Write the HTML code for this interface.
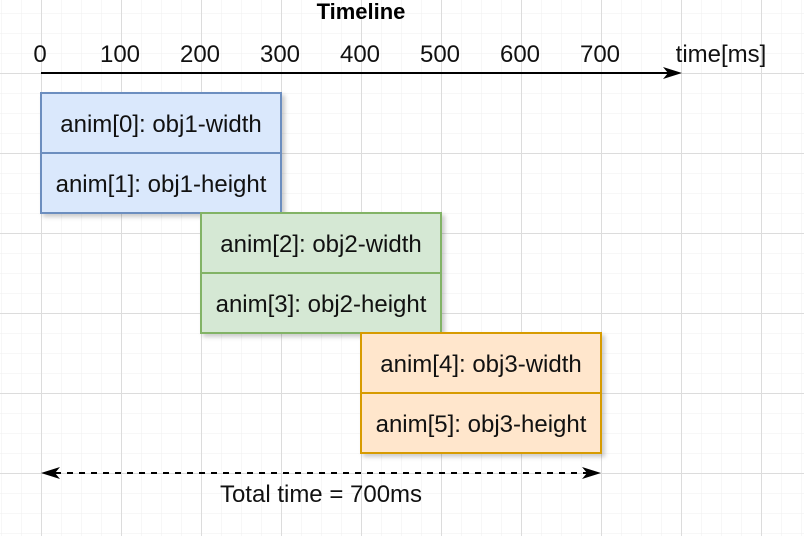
<!DOCTYPE html>
<html><head><style>
body{margin:0;width:804px;height:536px;overflow:hidden;background:#fff;font-family:"Liberation Sans",sans-serif;}
</style></head><body>
<svg width="804" height="536" xmlns="http://www.w3.org/2000/svg" font-family="Liberation Sans, sans-serif">
<defs>
<pattern id="minor" x="1" y="13" width="20" height="20" patternUnits="userSpaceOnUse">
<path d="M0 0H20M0 0V20" stroke="#efefef" stroke-width="1" fill="none"/></pattern>
<pattern id="major" x="41" y="73" width="80" height="80" patternUnits="userSpaceOnUse">
<path d="M0 0.5H80M0.5 0V80" stroke="#dcdcdc" stroke-width="1" fill="none"/></pattern>
<filter id="sh" x="-10%" y="-10%" width="130%" height="140%"><feDropShadow dx="3" dy="3" stdDeviation="2" flood-color="#000" flood-opacity="0.2"/></filter>
</defs>
<rect width="804" height="536" fill="url(#minor)"/>
<rect width="804" height="536" fill="url(#major)"/>
<text x="361" y="19" text-anchor="middle" font-size="22" font-weight="bold">Timeline</text>
<g font-size="24" text-anchor="middle" fill="#111">
<text x="40" y="62">0</text><text x="120" y="62">100</text><text x="200" y="62">200</text><text x="280" y="62">300</text><text x="360" y="62">400</text><text x="440" y="62">500</text><text x="520" y="62">600</text><text x="600" y="62">700</text><text x="721" y="62">time[ms]</text>
</g>
<line x1="41" y1="73" x2="670" y2="73" stroke="#000" stroke-width="2"/>
<path d="M682 73 L663 67 L668 73 L663 79 Z" fill="#000"/>
<g filter="url(#sh)" stroke-width="2">
<rect x="41" y="93" width="240" height="60" fill="#dae8fc" stroke="#6c8ebf"/>
<rect x="41" y="153" width="240" height="60" fill="#dae8fc" stroke="#6c8ebf"/>
<rect x="201" y="213" width="240" height="60" fill="#d5e8d4" stroke="#82b366"/>
<rect x="201" y="273" width="240" height="60" fill="#d5e8d4" stroke="#82b366"/>
<rect x="361" y="333" width="240" height="60" fill="#ffe6cc" stroke="#d79b00"/>
<rect x="361" y="393" width="240" height="60" fill="#ffe6cc" stroke="#d79b00"/>
</g>
<g font-size="24" text-anchor="middle" fill="#111">
<text x="161" y="132">anim[0]: obj1-width</text>
<text x="161" y="192">anim[1]: obj1-height</text>
<text x="321" y="252">anim[2]: obj2-width</text>
<text x="321" y="312">anim[3]: obj2-height</text>
<text x="481" y="372">anim[4]: obj3-width</text>
<text x="481" y="432">anim[5]: obj3-height</text>
<text x="321" y="502">Total time = 700ms</text>
</g>
<line x1="55" y1="473" x2="588" y2="473" stroke="#000" stroke-width="2" stroke-dasharray="6 6"/>
<path d="M41 473 L60 467 L55 473 L60 479 Z" fill="#000"/>
<path d="M601 473 L582 467 L587 473 L582 479 Z" fill="#000"/>
</svg>
</body></html>
